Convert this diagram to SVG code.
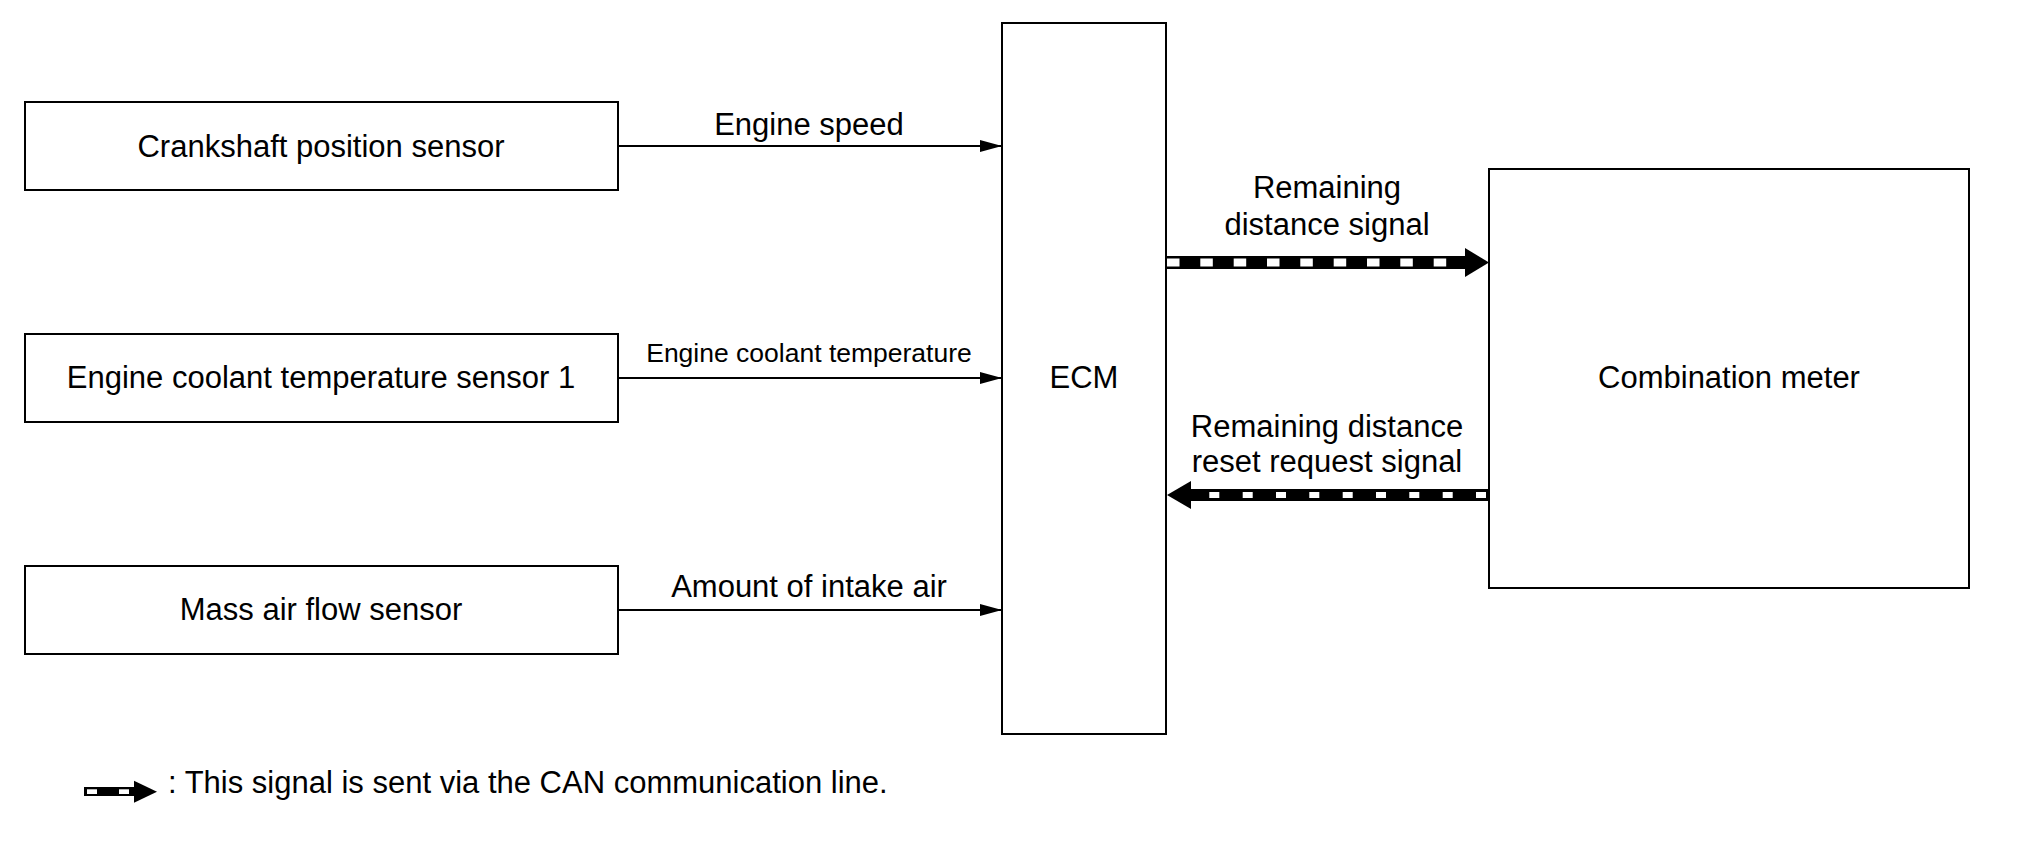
<svg xmlns="http://www.w3.org/2000/svg" width="2020" height="851" viewBox="0 0 2020 851">
<style>
.box{fill:#fff;stroke:#000;stroke-width:2}
.t{font-family:"Liberation Sans",Arial,sans-serif;font-size:31px;fill:#000;text-anchor:middle}
.lbl{font-family:"Liberation Sans",Arial,sans-serif;font-size:31px;fill:#000;text-anchor:middle}
.wire{stroke:#000;stroke-width:2;fill:none;marker-end:url(#ah)}
.can{fill:#000}
.sq{fill:#fff}
</style>
<defs>
<marker id="ah" markerUnits="userSpaceOnUse" markerWidth="22" markerHeight="12" refX="22" refY="6" orient="auto">
<path d="M0,0 L22,6 L0,12 z" fill="#000"/>
</marker>
</defs>
<rect width="2020" height="851" fill="#fff"/>

<g id="crankshaft">
<rect class="box" x="25" y="102" width="593" height="88"/>
<text class="t" x="321" y="157">Crankshaft position sensor</text>
</g>
<g id="coolant">
<rect class="box" x="25" y="334" width="593" height="88"/>
<text class="t" x="321" y="388">Engine coolant temperature sensor 1</text>
</g>
<g id="maf">
<rect class="box" x="25" y="566" width="593" height="88"/>
<text class="t" x="321" y="620">Mass air flow sensor</text>
</g>
<g id="ecm">
<rect class="box" x="1002" y="23" width="164" height="711"/>
<text class="t" x="1084" y="388">ECM</text>
</g>
<g id="meter">
<rect class="box" x="1489" y="169" width="480" height="419"/>
<text class="t" x="1729" y="388">Combination meter</text>
</g>

<g id="connectors">
<line class="wire" x1="618" y1="146" x2="1002" y2="146"/>
<text class="lbl" x="809" y="135">Engine speed</text>
<line class="wire" x1="618" y1="378" x2="1002" y2="378"/>
<text class="lbl" x="809" y="362" style="font-size:26.5px">Engine coolant temperature</text>
<line class="wire" x1="618" y1="610" x2="1002" y2="610"/>
<text class="lbl" x="809" y="597">Amount of intake air</text>

<g id="can1">
<rect class="can" x="1166" y="256" width="300" height="13"/>
<polygon class="can" points="1465,248 1489,262.5 1465,277"/>
<rect class="sq" x="1167" y="258.5" width="12.5" height="8"/>
<rect class="sq" x="1200.3" y="258.5" width="12.5" height="8"/>
<rect class="sq" x="1233.7" y="258.5" width="12.5" height="8"/>
<rect class="sq" x="1267" y="258.5" width="12.5" height="8"/>
<rect class="sq" x="1300.3" y="258.5" width="12.5" height="8"/>
<rect class="sq" x="1333.7" y="258.5" width="12.5" height="8"/>
<rect class="sq" x="1367" y="258.5" width="12.5" height="8"/>
<rect class="sq" x="1400.3" y="258.5" width="12.5" height="8"/>
<rect class="sq" x="1433.7" y="258.5" width="12.5" height="8"/>
</g>
<text class="lbl" x="1327" y="198">Remaining</text>
<text class="lbl" x="1327" y="235">distance signal</text>

<g id="can2">
<rect class="can" x="1190" y="489" width="299" height="12"/>
<polygon class="can" points="1191,481 1167,495 1191,509"/>
<rect class="sq" x="1209.3" y="492" width="10" height="6"/>
<rect class="sq" x="1242.7" y="492" width="10" height="6"/>
<rect class="sq" x="1276" y="492" width="10" height="6"/>
<rect class="sq" x="1309.3" y="492" width="10" height="6"/>
<rect class="sq" x="1342.7" y="492" width="10" height="6"/>
<rect class="sq" x="1376" y="492" width="10" height="6"/>
<rect class="sq" x="1409.3" y="492" width="10" height="6"/>
<rect class="sq" x="1442.7" y="492" width="10" height="6"/>
<rect class="sq" x="1476" y="492" width="10" height="6"/>
</g>
<text class="lbl" x="1327" y="437">Remaining distance</text>
<text class="lbl" x="1327" y="472">reset request signal</text>
</g>

<g id="legend">
<rect class="can" x="84" y="787" width="51" height="9"/>
<rect class="sq" x="87" y="789.3" width="10" height="4.7"/>
<rect class="sq" x="119" y="789.3" width="10" height="4.7"/>
<polygon class="can" points="134,780.7 157,791.7 134,802.7"/>
<text x="168" y="793" style="font-family:'Liberation Sans',Arial,sans-serif;font-size:31px;fill:#000">: This signal is sent via the CAN communication line.</text>
</g>
</svg>
